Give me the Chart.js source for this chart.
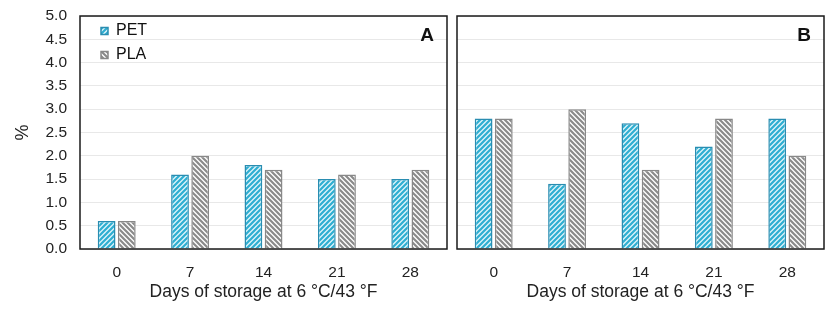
<!DOCTYPE html>
<html>
<head>
<meta charset="utf-8">
<script src="https://cdn.jsdelivr.net/npm/chart.js@4/dist/chart.umd.min.js"></script>
<style>
  html, body { margin: 0; padding: 0; background: #fff; }
  #wrap { position: relative; width: 840px; height: 321px; }
  canvas { position: absolute; top: 0; }
  #chartA { left: 0; }
  #chartB { left: 450px; }
</style>
</head>
<body>
<div id="wrap">
  <canvas id="chartA" width="450" height="321"></canvas>
  <canvas id="chartB" width="390" height="321"></canvas>
</div>
<script>
// data
const days = ['0', '7', '14', '21', '28'];
const petA = [0.6, 1.6, 1.8, 1.5, 1.5];
const plaA = [0.6, 2.0, 1.7, 1.6, 1.7];
const petB = [2.8, 1.4, 2.7, 2.2, 2.8];
const plaB = [2.8, 3.0, 1.7, 2.8, 2.0];
const yMin = 0, yMax = 5, yStep = 0.5;

const family = '"Liberation Sans", Arial, sans-serif';
const ink = '#222';

// diagonal hatch fill, '/' or '\'
const makeHatch = (stripe, back, dir) => {
    const s = 5, c = document.createElement('canvas');
    c.width = s; c.height = s;
    const ctx = c.getContext('2d');
    ctx.fillStyle = back;
    ctx.fillRect(0, 0, s, s);
    ctx.strokeStyle = stripe;
    ctx.lineWidth = 2.2;
    ctx.beginPath();
    if (dir === '/') {
        ctx.moveTo(-1, 1); ctx.lineTo(1, -1);
        ctx.moveTo(0, s); ctx.lineTo(s, 0);
        ctx.moveTo(s - 1, s + 1); ctx.lineTo(s + 1, s - 1);
    } else {
        ctx.moveTo(-1, s - 1); ctx.lineTo(1, s + 1);
        ctx.moveTo(0, 0); ctx.lineTo(s, s);
        ctx.moveTo(s - 1, -1); ctx.lineTo(s + 1, 1);
    }
    ctx.stroke();
    return ctx.createPattern(c, 'repeat');
}

const petFill = makeHatch('#2eaed1', '#dff4fa', '/');
const plaFill = makeHatch('#8a8a8a', '#ffffff', '\\');

// black box round the plot + panel letter, legend put in the top left corner
const frame = {
    id: 'frame',
    beforeDraw(chart) {
        if (chart.options.plugins.legend.display) {
            chart.legend.left = chart.chartArea.left + 13;
            chart.legend.top = chart.chartArea.top - 1;
        }
    },
    afterDraw(chart, args, opts) {
        const {ctx, chartArea: a} = chart;
        ctx.save();
        ctx.strokeStyle = '#1a1a1a';
        ctx.lineWidth = 1.5;
        ctx.strokeRect(a.left, a.top, a.right - a.left, a.bottom - a.top);
        ctx.fillStyle = '#111';
        ctx.font = 'bold 19px ' + family;
        ctx.textAlign = 'right';
        ctx.textBaseline = 'middle';
        ctx.fillText(opts.letter, a.right - 13, a.top + 20);
        ctx.restore();
    }
};

const buildChart = (id, pet, pla, letter, showY) => {
    const config = {
        type: 'bar',
        data: {
            labels: days,
            datasets: [
                {label: 'PET', data: pet, backgroundColor: petFill, borderColor: '#2a8db1', borderWidth: 1.5,
                 categoryPercentage: 0.55, barPercentage: 0.88},
                {label: 'PLA', data: pla, backgroundColor: plaFill, borderColor: '#888', borderWidth: 1.5,
                 categoryPercentage: 0.55, barPercentage: 0.88}
            ]
        },
        options: {
            responsive: false,
            animation: false,
            devicePixelRatio: 1,
            layout: {padding: {top: 16, right: showY ? 3 : 16, left: 0, bottom: 0}},
            plugins: {
                tooltip: {enabled: false},
                frame: {letter: letter},
                legend: {
                    display: showY,
                    position: 'chartArea',
                    align: 'start',
                    labels: {boxWidth: 7, boxHeight: 7, padding: 8, color: '#111', font: {size: 16, family: family}}
                }
            },
            scales: {
                x: {
                    grid: {display: false},
                    border: {display: false},
                    ticks: {color: ink, padding: 6, font: {size: 15.5, family: family}},
                    title: {display: true, text: 'Days of storage at 6 °C/43 °F', color: ink,
                            padding: {top: 0, bottom: 18}, font: {size: 17.5, family: family}},
                    afterFit: (s) => { s.height = 72; }
                },
                y: {
                    min: yMin, max: yMax,
                    grid: {color: '#e8e8e8', drawTicks: false},
                    border: {display: false},
                    ticks: {display: showY, stepSize: yStep, padding: 13, color: ink,
                            font: {size: 15.5, family: family}, callback: (v) => v.toFixed(1)},
                    title: {display: showY, text: '%', color: ink, padding: {top: 12, bottom: 0},
                            font: {size: 18, family: family}},
                    afterFit: (s) => {
                        s.width = showY ? 80 : 7;
                        s.paddingTop = 0;
                        s.paddingBottom = 0;
                    }
                }
            }
        },
        plugins: [frame]
    };
    return new Chart(document.getElementById(id), config);
}

buildChart('chartA', petA, plaA, 'A', true);
buildChart('chartB', petB, plaB, 'B', false);
</script>
</body>
</html>
